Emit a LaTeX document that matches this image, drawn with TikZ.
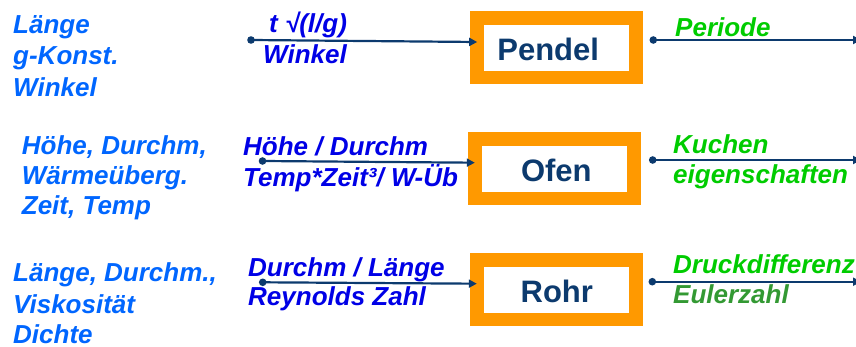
\documentclass[tikz,border=0pt]{standalone}
\usepackage{fontspec}
\setmainfont{Liberation Sans}
\usetikzlibrary{arrows.meta}
\definecolor{navy}{RGB}{12,58,110}
\definecolor{lblue}{RGB}{0,102,255}
\definecolor{mblue}{RGB}{0,0,230}
\definecolor{lgreen}{RGB}{0,204,0}
\definecolor{dgreen}{RGB}{51,153,51}
\definecolor{orng}{RGB}{255,153,0}
\tikzset{
  txt/.style={anchor=base west, inner sep=0pt, font=\fontsize{26}{30}\selectfont\bfseries\itshape},
  intxt/.style={txt, text=lblue},
  mtxt/.style={txt, text=mblue},
  otxt/.style={txt, text=lgreen},
  procbox/.style={rectangle, draw=orng, line width=13.5pt, fill=white, outer sep=0pt, inner sep=0pt,
    minimum width=159pt, minimum height=59.5pt, text=navy, text height=26pt, text depth=0pt,
    font=\fontsize{31}{36}\selectfont\bfseries},
  conn/.style={draw=navy, line width=2.2pt},
  arr/.style={conn, -{Triangle[length=8pt,width=8pt]}},
  dotc/.style={fill=navy}
}
\begin{document}
\begin{tikzpicture}[x=1pt,y=-1pt]
\useasboundingbox (0,0) rectangle (856,347);
% boxes
\node[procbox] (pendel) at (556.7,48) {Pendel\kern17pt};
\node[procbox] (ofen) at (554.3,168.7) {\kern4pt Ofen};
\node[procbox] (rohr) at (556.3,289.7) {\kern1pt Rohr};
% left inputs
\node[intxt] (l1a) at (13,33.3) {Länge};
\node[intxt] (l1b) at (13,65) {g-Konst.};
\node[intxt] (l1c) at (13,96.7) {Winkel};
\node[intxt] (l2a) at (21.7,155) {Höhe, Durchm,};
\node[intxt] (l2b) at (21.7,185) {Wärmeüberg.};
\node[intxt] (l2c) at (21.7,215) {Zeit, Temp};
\node[intxt] (l3a) at (13,281.7) {Länge, Durchm.,};
\node[intxt] (l3b) at (13,313.3) {Viskosität};
\node[intxt, text depth=0pt] (l3c) at (13,343.5) {Dichte};
% middle labels
\node[mtxt] (m1a) at (269,33) {t √(l/g)};
\node[mtxt] (m1b) at (263,63.5) {Winkel};
\node[mtxt] (m2a) at (243,156) {Höhe / Durchm};
\node[mtxt] (m2b) at (243,186.5) {Temp*Zeit³/ W-Üb};
\node[mtxt] (m3a) at (248,276.7) {Durchm / Länge};
\node[mtxt] (m3b) at (248,305.5) {Reynolds Zahl};
% outputs
\node[otxt] (o1) at (675,36.7) {Periode};
\node[otxt] (o2a) at (673,153.3) {Kuchen};
\node[otxt] (o2b) at (673,183.3) {eigenschaften};
\node[otxt] (o3a) at (673,273.3) {Druckdifferenz};
\node[otxt, text=dgreen] (o3b) at (673,303.3) {Eulerzahl};
% connector coordinates
\coordinate (s1) at (251,40);
\coordinate (s2) at (262.5,161);
\coordinate (s3) at (262.7,282.3);
\coordinate (q1) at (653.3,40);
\coordinate (q2) at (652.7,160);
\coordinate (q3) at (652.3,281.7);
\coordinate (e1) at (861,40);
\coordinate (e2) at (861,160);
\coordinate (e3) at (861,281.7);
% input connectors
\draw[arr] (s1) -- ([yshift=6pt]pendel.west);
\draw[arr] (s2) -- ([yshift=6pt]ofen.west);
\draw[arr] (s3) -- ([yshift=6pt]rohr.west);
\fill[dotc] (s1) circle (3.8pt);
\fill[dotc] (s2) circle (3.8pt);
\fill[dotc] (s3) circle (3.8pt);
% output connectors
\draw[arr] (q1) -- (e1);
\draw[arr] (q2) -- (e2);
\draw[arr] (q3) -- (e3);
\fill[dotc] (q1) circle (3.8pt);
\fill[dotc] (q2) circle (3.8pt);
\fill[dotc] (q3) circle (3.8pt);
\end{tikzpicture}
\end{document}
